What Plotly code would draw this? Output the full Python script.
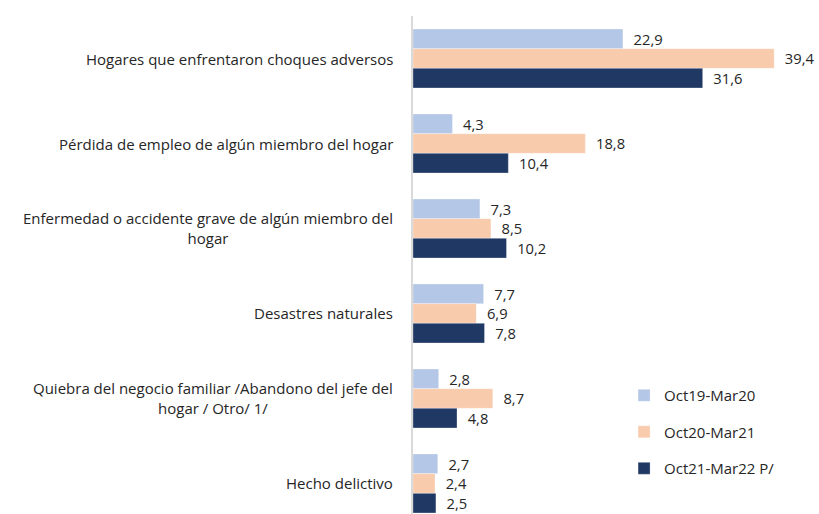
import plotly.graph_objects as go

categories = [
    "Hogares que enfrentaron choques adversos",
    "Pérdida de empleo de algún miembro del hogar",
    "Enfermedad o accidente grave de algún miembro del<br>hogar",
    "Desastres naturales",
    "Quiebra del negocio familiar /Abandono del jefe del<br>hogar / Otro/ 1/",
    "Hecho delictivo",
]
series_names = ["Oct19-Mar20", "Oct20-Mar21", "Oct21-Mar22 P/"]
series_values = [
    [22.9, 4.3, 7.3, 7.7, 2.8, 2.7],
    [39.4, 18.8, 8.5, 6.9, 8.7, 2.4],
    [31.6, 10.4, 10.2, 7.8, 4.8, 2.5],
]
colors = ["#B4C7E7", "#F8CBAD", "#203864"]

FONT = "'Open Sans', sans-serif"
ypos = list(range(len(categories)))

fig = go.Figure()
for i, (name, vals) in enumerate(zip(series_names, series_values)):
    fig.add_trace(go.Bar(
        y=ypos, x=vals, name=name, orientation="h",
        marker=dict(color=colors[i], line=dict(color="rgba(255,255,255,0.6)", width=0.5)),
        text=vals, texttemplate="  %{x:.1f}", textposition="outside",
        textfont=dict(size=15, color="#262626", family=FONT),
        cliponaxis=False, legendgroup=f"g{i}",
        hoverinfo="skip",
    ))

for yi, cat in zip(ypos, categories):
    fig.add_annotation(
        x=0, y=yi, xref="paper", yref="y", text=cat, showarrow=False,
        xanchor="right", yanchor="middle", align="center", xshift=-18,
        font=dict(size=15, color="#262626", family=FONT),
    )

fig.update_layout(
    width=819, height=514,
    margin=dict(l=413, r=10, t=16, b=0),
    paper_bgcolor="white", plot_bgcolor="white",
    barmode="group", bargap=0.306, bargroupgap=0,
    separators=", ",
    font=dict(family=FONT, color="#262626", size=15),
    showlegend=True,
    legend=dict(
        x=0.533, y=0.271, xanchor="left", yanchor="top",
        traceorder="grouped", tracegroupgap=14,
        font=dict(size=15, color="#262626", family=FONT),
        itemwidth=30, bgcolor="rgba(0,0,0,0)",
    ),
    xaxis=dict(range=[0, 43.2], showgrid=False, zeroline=False, showticklabels=False,
               showline=False, fixedrange=True),
    yaxis=dict(range=[5.359, -0.5], showgrid=False, zeroline=False, showticklabels=False,
               showline=True, linecolor="#D9D9D9", linewidth=1.5, ticks="", fixedrange=True),
)

post = """
document.body.style.margin = '0';
document.body.style.overflow = 'hidden';
"""

fig.write_html("out.html", post_script=post, config={"displayModeBar": False})
